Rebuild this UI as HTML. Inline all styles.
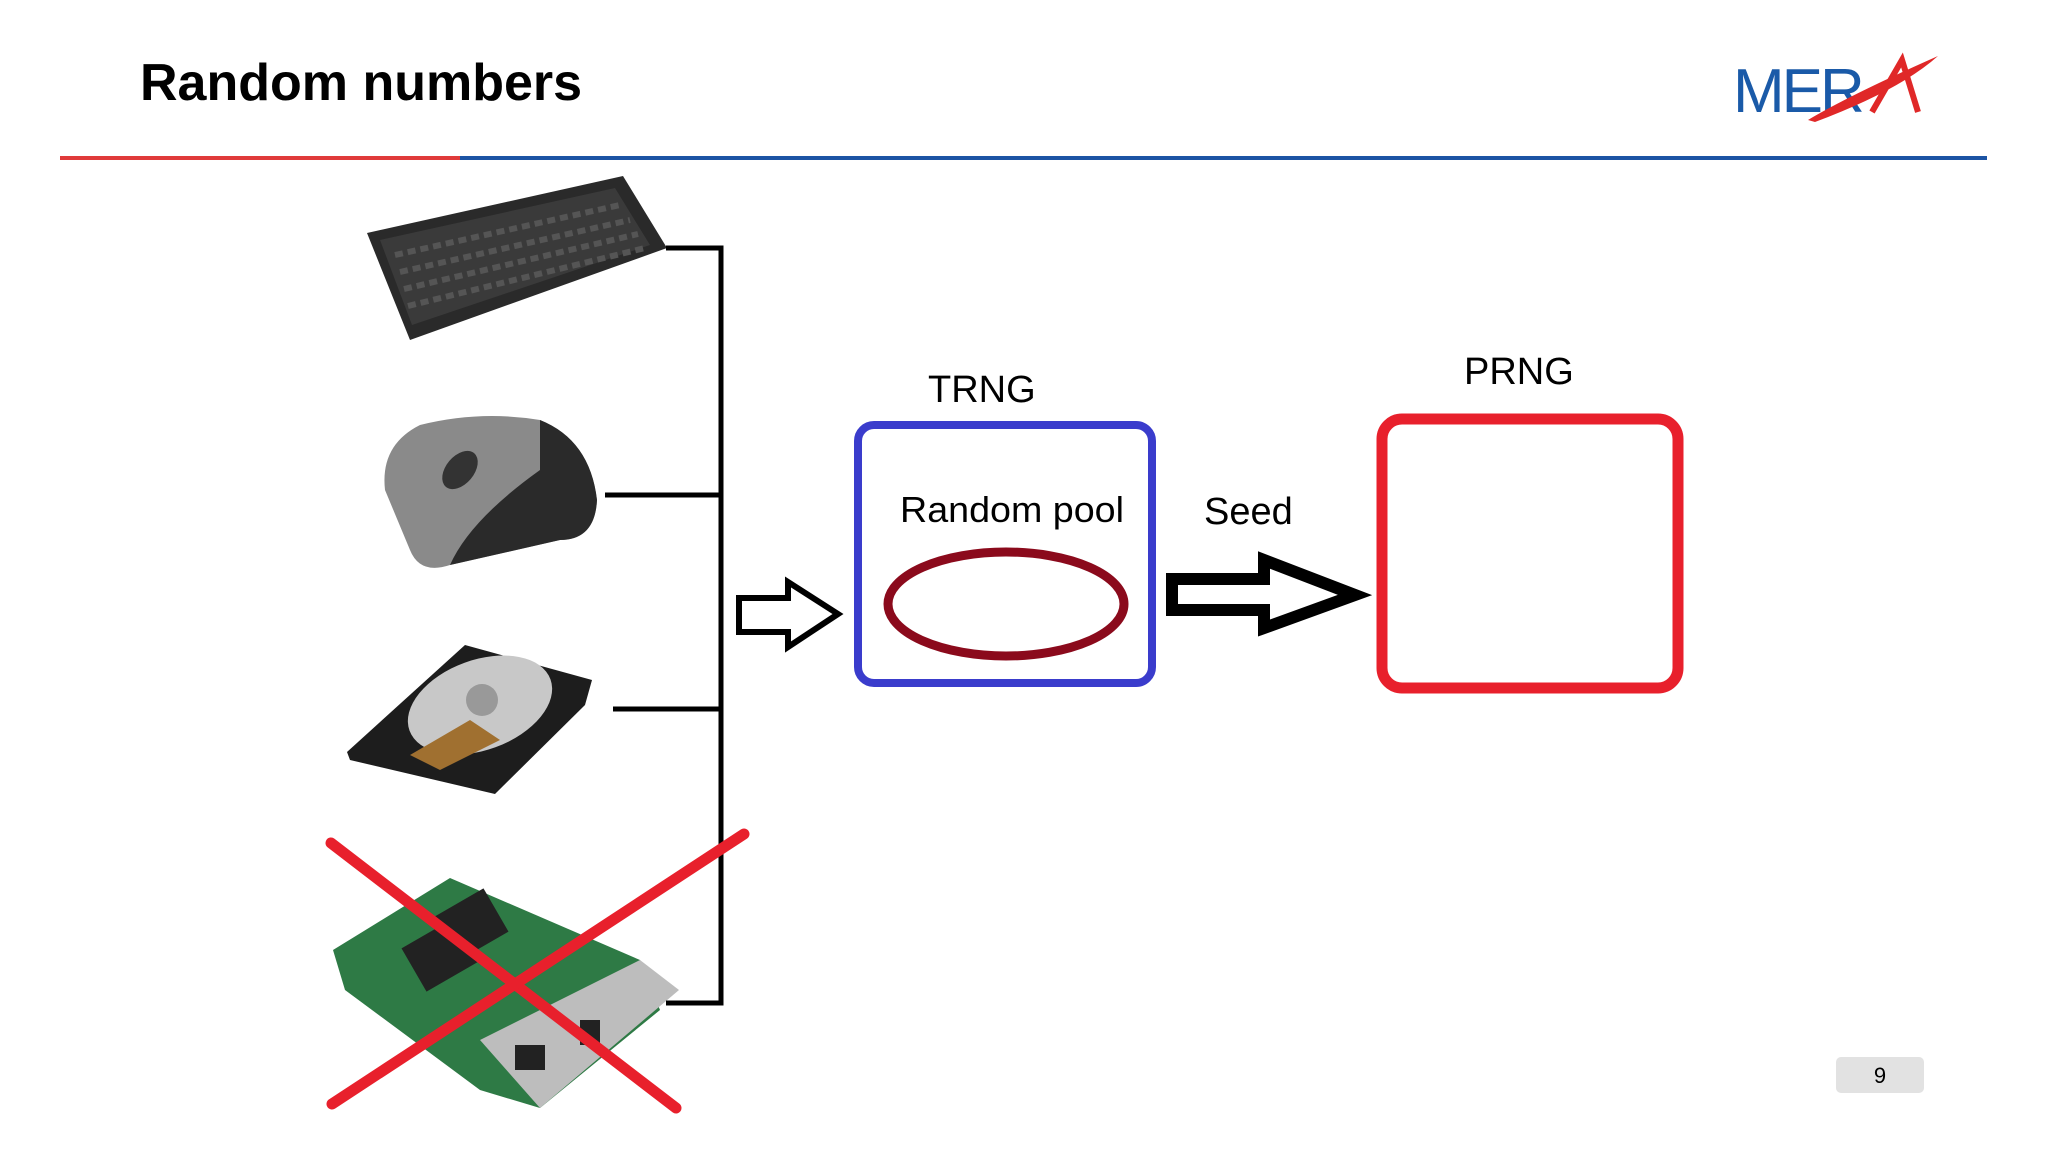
<!DOCTYPE html>
<html><head><meta charset="utf-8"><style>
html,body{margin:0;padding:0;background:#fff}
body{width:2048px;height:1152px;overflow:hidden;position:relative;font-family:"Liberation Sans",sans-serif}
</style></head><body>
<svg width="2048" height="1152" viewBox="0 0 2048 1152" xmlns="http://www.w3.org/2000/svg" style="position:absolute;left:0;top:0">
<text x="140" y="100" font-family="Liberation Sans, sans-serif" font-weight="bold" font-size="52" fill="#000">Random numbers</text>
<!-- logo -->
<text x="1733" y="112" font-family="Liberation Sans, sans-serif" font-size="62" fill="#1a5aa8" letter-spacing="-3">MER</text>
<path d="M1872 112 L1902 60 L1918 112" stroke="#e02828" stroke-width="6" fill="none"/>
<path d="M1808 120 Q1850 95 1938 56 Q1900 90 1815 122 Z" fill="#e02828"/>
<!-- rule -->
<rect x="60" y="156" width="400" height="4" fill="#e03a3a"/>
<rect x="460" y="156" width="1527" height="4" fill="#1c54a4"/>
<!-- keyboard -->
<polygon points="367,233 623,176 667,248 410,340" fill="#2a2a2a"/>
<polygon points="380,240 615,188 650,245 412,325" fill="#3a3a3a"/>
<g stroke="#555" stroke-width="6" stroke-dasharray="8 5">
<line x1="395" y1="255" x2="620" y2="205"/><line x1="400" y1="272" x2="630" y2="220"/><line x1="404" y1="289" x2="638" y2="234"/><line x1="408" y1="306" x2="645" y2="248"/>
</g>
<!-- mouse -->
<path d="M385 490 Q380 445 420 425 Q480 410 540 420 Q590 440 597 500 Q595 540 560 540 L450 565 Q420 575 410 550 Z" fill="#8a8a8a"/>
<path d="M540 420 Q590 440 597 500 Q595 540 560 540 L450 565 Q470 520 540 470 Z" fill="#2a2a2a"/>
<ellipse cx="460" cy="470" rx="14" ry="22" transform="rotate(40 460 470)" fill="#333"/>
<!-- hdd -->
<polygon points="347,752 465,645 592,680 585,705 495,794 350,760" fill="#1d1d1d"/>
<ellipse cx="480" cy="705" rx="75" ry="45" transform="rotate(-20 480 705)" fill="#c8c8c8"/>
<circle cx="482" cy="700" r="16" fill="#999"/>
<polygon points="410,755 470,720 500,740 440,770" fill="#a07030"/>
<!-- NIC -->
<polygon points="333,950 450,878 640,960 660,1010 540,1108 480,1090 345,990" fill="#2e7a45"/>
<polygon points="480,1040 640,960 679,990 540,1108" fill="#bdbdbd"/>
<rect x="410" y="930" width="60" height="50" fill="#222" transform="rotate(-30 440 955)"/>
<rect x="440" y="900" width="60" height="50" fill="#222" transform="rotate(-30 470 925)"/>
<rect x="515" y="1045" width="30" height="25" fill="#222"/>
<rect x="580" y="1020" width="20" height="25" fill="#222"/>
<!-- bus -->
<g stroke="#000" stroke-width="5" fill="none">
<polyline points="666,248 721,248 721,1003 666,1003"/>
<line x1="605" y1="495" x2="721" y2="495"/>
<line x1="613" y1="709" x2="721" y2="709"/>
</g>
<!-- red X -->
<g stroke="#e8202c" stroke-width="11" stroke-linecap="round">
<line x1="331" y1="843" x2="676" y2="1108"/>
<line x1="744" y1="834" x2="332" y2="1104"/>
</g>
<!-- hollow arrow -->
<polygon points="739,598 788,598 788,582 838,614 788,647 788,632 739,632" fill="#fff" stroke="#000" stroke-width="6" stroke-linejoin="miter"/>
<!-- TRNG -->
<text x="928" y="402" font-size="38" fill="#000" font-family="Liberation Sans, sans-serif">TRNG</text>
<rect x="858" y="425" width="294" height="258" rx="16" fill="none" stroke="#3a3ccc" stroke-width="8"/>
<text x="900" y="522" font-size="36" textLength="224" lengthAdjust="spacingAndGlyphs" fill="#000" font-family="Liberation Sans, sans-serif">Random pool</text>
<ellipse cx="1006" cy="604" rx="118" ry="52" fill="none" stroke="#8b0a1c" stroke-width="9"/>
<!-- seed arrow -->
<text x="1204" y="524" font-size="38" fill="#000" font-family="Liberation Sans, sans-serif">Seed</text>
<polygon points="1172,579 1264,579 1264,560 1355,595 1264,628 1264,610 1172,610" fill="#fff" stroke="#000" stroke-width="12" stroke-linejoin="miter"/>
<!-- PRNG -->
<text x="1464" y="384" font-size="38" fill="#000" font-family="Liberation Sans, sans-serif">PRNG</text>
<rect x="1382" y="419" width="296" height="269" rx="20" fill="none" stroke="#e8202c" stroke-width="11"/>
<!-- page number -->
<rect x="1836" y="1057" width="88" height="36" rx="5" fill="#e2e2e2"/>
<text x="1880" y="1083" font-size="22" text-anchor="middle" fill="#000" font-family="Liberation Sans, sans-serif">9</text>
</svg>
</body></html>
